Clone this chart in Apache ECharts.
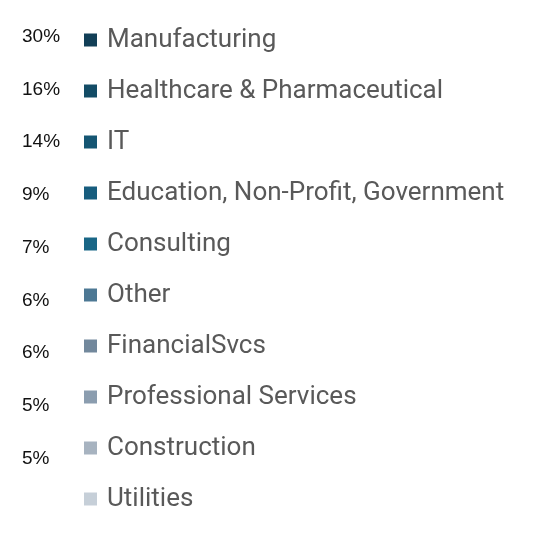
<!DOCTYPE html>
<html>
<head>
<meta charset="utf-8">
<script src="https://cdn.jsdelivr.net/npm/echarts@6/dist/echarts.min.js"></script>
<style>html,body{margin:0;padding:0;background:#fff;}#c{width:536px;height:552px;}</style>
</head>
<body>
<div id="c"></div>
<script>
const categories = ['Manufacturing','Healthcare & Pharmaceutical','IT','Education, Non-Profit, Government','Consulting','Other','FinancialSvcs','Professional Services','Construction','Utilities'];
const values = [30,16,14,9,7,6,6,5,5,2];
const showPct = [true,true,true,true,true,true,true,true,true,false];
const colors = ['#123f57','#134c66','#155673','#175d7e','#196686','#4d7894','#72889c','#8b9daf','#a7b3c0','#c6cfd8'];

const chart = echarts.init(document.getElementById('c'), null, {renderer:'canvas'});
chart.setOption({
  animation:false,
  backgroundColor:'#fff',
  color: colors,
  legend:{
    orient:'vertical', left:84, top:25, padding:0, itemWidth:13, itemHeight:13, icon:'rect',
    itemGap:21, selectedMode:false,
    data: categories,
    textStyle:{fontFamily:'Roboto', fontSize:26, color:'#595959', lineHeight:30, padding:[0,0,0,5]}
  },
  grid:{left:80, right:400, top:10.5, height:527},
  xAxis:{type:'value', show:false, min:0, max:100},
  yAxis:{type:'category', inverse:true, data: categories,
    axisLine:{show:false}, axisTick:{show:false}, splitLine:{show:false},
    axisLabel:{margin:58, align:'left', fontFamily:'Liberation Sans', fontSize:19, color:'#111',
      formatter:(v, i)=> showPct[i] ? values[i] + '%' : ''}
  },
  series:[
    {type:'pie', name:'share', radius:0, center:[-500,-500], label:{show:false}, labelLine:{show:false},
      data: categories.map((n,i)=>({name:n, value:values[i]}))},
    {type:'scatter', name:'pct', symbolSize:0, silent:true, data: values.map(v=>v)}
  ]
});
</script>
</body>
</html>
